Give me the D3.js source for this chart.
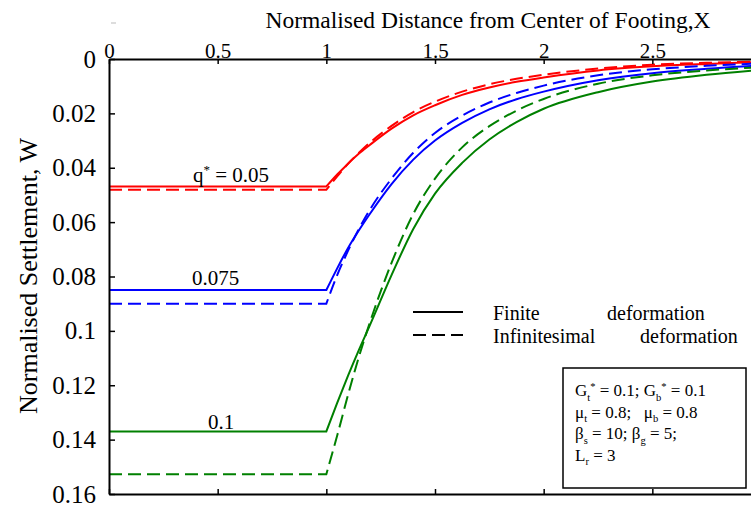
<!DOCTYPE html>
<html>
<head>
<meta charset="utf-8">
<script src="https://cdn.jsdelivr.net/npm/d3@7"></script>
<style>
  body { margin: 0; background: #fff; }
  svg text { font-family: "Liberation Serif", "Times New Roman", serif; fill: #000; }
</style>
</head>
<body>
<div id="chart"></div>
<script>
// distance from footing centre (normalised)
const xs = [0, 1, 1.05, 1.1, 1.15, 1.2, 1.3, 1.4, 1.5, 1.625, 1.75, 1.875, 2, 2.25, 2.5, 2.75, 3];

// settlement, finite (solid) and infinitesimal (dashed) deformation
const redFinite   = [0.0469, 0.0469, 0.0425, 0.0385, 0.0348, 0.0316, 0.0256, 0.0207, 0.0170, 0.0132, 0.0105, 0.0084, 0.0068, 0.0042, 0.0027, 0.0018, 0.0011];
const redInfin    = [0.0481, 0.0481, 0.0432, 0.0385, 0.0345, 0.0308, 0.0246, 0.0195, 0.0157, 0.0120, 0.0093, 0.0073, 0.0058, 0.0035, 0.0021, 0.0014, 0.0009];
const blueFinite  = [0.0850, 0.0850, 0.0770, 0.0695, 0.0630, 0.0570, 0.0460, 0.0370, 0.0300, 0.0235, 0.0185, 0.0148, 0.0120, 0.0078, 0.0052, 0.0036, 0.0024];
const blueInfin   = [0.0900, 0.0900, 0.0795, 0.0705, 0.0625, 0.0555, 0.0440, 0.0345, 0.0272, 0.0208, 0.0160, 0.0125, 0.0098, 0.0060, 0.0038, 0.0025, 0.0016];
const greenFinite = [0.1370, 0.1370, 0.1265, 0.1165, 0.1070, 0.0980, 0.0795, 0.0625, 0.0495, 0.0382, 0.0296, 0.0232, 0.0183, 0.0122, 0.0083, 0.0058, 0.0040];
const greenInfin  = [0.1527, 0.1527, 0.1385, 0.1235, 0.1095, 0.0970, 0.0750, 0.0570, 0.0440, 0.0325, 0.0247, 0.0190, 0.0147, 0.0091, 0.0060, 0.0042, 0.0030];

const xTicks = [0, 0.5, 1, 1.5, 2, 2.5];
const xTickLabels = ["0", "0.5", "1", "1.5", "2", "2.5"];
const yTicks = [0, 0.02, 0.04, 0.06, 0.08, 0.1, 0.12, 0.14, 0.16];
const yTickLabels = ["0", "0.02", "0.04", "0.06", "0.08", "0.1", "0.12", "0.14", "0.16"];

const series = [
  { values: redFinite,   color: "#ff0000", dashed: false },
  { values: redInfin,    color: "#ff0000", dashed: true },
  { values: blueFinite,  color: "#0000ff", dashed: false },
  { values: blueInfin,   color: "#0000ff", dashed: true },
  { values: greenFinite, color: "#008000", dashed: false },
  { values: greenInfin,  color: "#008000", dashed: true }
];

const serif = '"Liberation Serif", "Times New Roman", serif';
const W = 751, H = 509;
const svg = d3.select("#chart").append("svg")
  .attr("width", W)
  .attr("height", H);

const x = d3.scaleLinear().domain([0, 3]).range([109, 761]);
const y = d3.scaleLinear().domain([0, 0.16]).range([59, 494]);

// flat part under the footing (x <= 1) is straight, the rest is a smooth curve
const flatLine = d3.line()
  .x(d => x(d[0]))
  .y(d => y(d[1]));
const tailLine = d3.line()
  .x(d => x(d[0]))
  .y(d => y(d[1]))
  .curve(d3.curveMonotoneX);

function pathFor(values) {
  const pts = values.map((v, i) => [xs[i], v]);
  const flat = pts.filter(p => p[0] <= 1);
  const tail = pts.filter(p => p[0] >= 1);
  return flatLine(flat) + tailLine(tail).replace(/^M/, "L");
}

svg.selectAll(".curve")
  .data(series)
  .enter()
  .append("path")
  .attr("class", "curve")
  .attr("d", d => pathFor(d.values))
  .attr("fill", "none")
  .attr("stroke", d => d.color)
  .attr("stroke-width", 2)
  .attr("stroke-dasharray", d => d.dashed ? "13,6" : null);

// axes
const topAxis = svg.append("g")
  .attr("transform", `translate(0,${y(0)})`)
  .call(d3.axisTop(x).tickValues(xTicks).tickFormat((d, i) => xTickLabels[i]).tickSizeInner(-5).tickSizeOuter(0).tickPadding(1));
topAxis.select(".domain").attr("stroke-width", 2);
topAxis.selectAll(".tick line").attr("stroke-width", 1.5);
topAxis.selectAll("text").style("font-size", "21px").style("font-family", serif);

const leftAxis = svg.append("g")
  .attr("transform", `translate(${x(0)},0)`)
  .call(d3.axisLeft(y).tickValues(yTicks).tickFormat((d, i) => yTickLabels[i]).tickSizeInner(-6).tickSizeOuter(0).tickPadding(13));
leftAxis.select(".domain").attr("stroke-width", 2);
leftAxis.selectAll(".tick line").attr("stroke-width", 1.5);
leftAxis.selectAll("text").style("font-size", "25px").style("font-family", serif);

const bottomAxis = svg.append("g")
  .attr("transform", `translate(0,${y(0.16)})`)
  .call(d3.axisBottom(x).tickValues(xTicks).tickFormat("").tickSizeInner(-5).tickSizeOuter(0));
bottomAxis.select(".domain").attr("stroke-width", 2);
bottomAxis.selectAll(".tick line").attr("stroke-width", 1.5);

// axis titles
svg.append("text")
  .attr("x", 488)
  .attr("y", 28)
  .style("text-anchor", "middle")
  .style("font-size", "23.5px")
  .text("Normalised Distance from Center of Footing,X");

svg.append("text")
  .attr("transform", "rotate(-90)")
  .attr("x", -276)
  .attr("y", 37)
  .style("text-anchor", "middle")
  .style("font-size", "26px")
  .text("Normalised Settlement, W");

// stray mark
svg.append("line")
  .attr("x1", 111).attr("x2", 116)
  .attr("y1", 23).attr("y2", 23)
  .attr("stroke", "#bbb").attr("stroke-width", 1);

// rich text helper: parts of [text, kind] where kind is "", "sub" or "sup"
function richText(g, px, py, size, parts) {
  const t = g.append("text").attr("x", px).attr("y", py).style("font-size", size + "px");
  let shift = 0;
  parts.forEach(([txt, kind]) => {
    let target = 0;
    if (kind === "sub") target = size * 0.28;
    if (kind === "sup") target = -size * 0.38;
    t.append("tspan")
      .attr("dy", target - shift)
      .style("font-size", kind ? (size * 0.62) + "px" : size + "px")
      .text(txt);
    shift = target;
  });
  return t;
}

// curve labels
richText(svg, 193, 182, 21, [["q", ""], ["*", "sup"], [" = 0.05", ""]]);
svg.append("text").attr("x", 192).attr("y", 285).style("font-size", "21px").text("0.075");
svg.append("text").attr("x", 208).attr("y", 429).style("font-size", "21px").text("0.1");

// legend
const legend = [
  { label1: "Finite", label2: "deformation", x2: 607, yy: 312, dashed: false },
  { label1: "Infinitesimal", label2: "deformation", x2: 640, yy: 335, dashed: true }
];
legend.forEach(d => {
  svg.append("line")
    .attr("x1", 413).attr("x2", 463)
    .attr("y1", d.yy).attr("y2", d.yy)
    .attr("stroke", "#000").attr("stroke-width", 2)
    .attr("stroke-dasharray", d.dashed ? "13,6" : null);
  svg.append("text").attr("x", 493).attr("y", d.yy + 8).style("font-size", "20px").text(d.label1);
  svg.append("text").attr("x", d.x2).attr("y", d.yy + 8).style("font-size", "20px").text(d.label2);
});

// parameter box
svg.append("rect")
  .attr("x", 563).attr("y", 368)
  .attr("width", 183).attr("height", 120)
  .attr("fill", "#fff")
  .attr("stroke", "#000").attr("stroke-width", 1.5);

const boxLines = [
  [["G", ""], ["t", "sub"], ["*", "sup"], [" = 0.1; G", ""], ["b", "sub"], ["*", "sup"], [" = 0.1", ""]],
  [["\u03bc", ""], ["t", "sub"], [" = 0.8;   \u03bc", ""], ["b", "sub"], [" = 0.8", ""]],
  [["\u03b2", ""], ["s", "sub"], [" = 10; \u03b2", ""], ["g", "sub"], [" = 5;", ""]],
  [["L", ""], ["r", "sub"], [" = 3", ""]]
];
boxLines.forEach((parts, i) => {
  richText(svg, 575, 396 + i * 21.5, 17, parts).style("white-space", "pre");
});
</script>
</body>
</html>
